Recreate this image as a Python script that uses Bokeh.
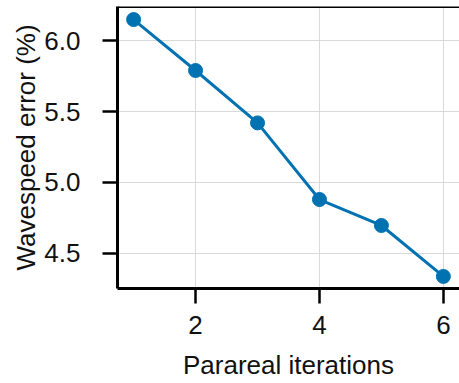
from bokeh.plotting import figure
from bokeh.models import Range1d, Span, FixedTicker, CustomJSTickFormatter
from bokeh.embed import file_html
from bokeh.resources import INLINE

iterations = [1, 2, 3, 4, 5, 6]
wavespeed_error = [6.148, 5.789, 5.42, 4.88, 4.697, 4.338]
x_ticks = [2, 4, 6]
y_ticks = [4.5, 5.0, 5.5, 6.0]

FONT = "Liberation Sans"
BLUE = "#0072B2"

p = figure(width=459, height=383, output_backend="svg", toolbar_location=None,
           x_range=Range1d(0.74, 6.26), y_range=Range1d(4.253, 6.24),
           min_border_left=117, min_border_right=0, min_border_top=6, min_border_bottom=95)
p.outline_line_color = None
p.background_fill_color = "white"

p.line(iterations, wavespeed_error, line_color=BLUE, line_width=3)
p.scatter(iterations, wavespeed_error, size=14, fill_color=BLUE, line_color=BLUE)

top = Span(location=6.24, dimension="width", line_color="black", line_width=3)
p.add_layout(top)

for ax in (p.xaxis[0], p.yaxis[0]):
    ax.axis_line_width = 3
    ax.axis_line_color = "black"
    ax.major_tick_line_width = 2.5
    ax.major_tick_line_color = "black"
    ax.major_tick_out = 15
    ax.major_tick_in = 0
    ax.minor_tick_out = 0
    ax.minor_tick_in = 0
    ax.major_label_text_font = FONT
    ax.major_label_text_font_size = "26px"
    ax.major_label_text_color = "#111111"
    ax.axis_label_text_font = FONT
    ax.axis_label_text_font_size = "26px"
    ax.axis_label_text_font_style = "normal"
    ax.axis_label_text_color = "#111111"

p.xaxis.major_label_standoff = 12
p.yaxis.major_label_standoff = 22
p.xaxis.ticker = FixedTicker(ticks=x_ticks)
p.yaxis.ticker = FixedTicker(ticks=y_ticks)
p.yaxis.formatter = CustomJSTickFormatter(code="return tick.toFixed(1);")
p.xaxis.axis_label = "Parareal iterations"
p.yaxis.axis_label = "Wavespeed error (%)"
p.xaxis.axis_label_standoff = 13
p.yaxis.axis_label_standoff = 0

p.xgrid.ticker = FixedTicker(ticks=x_ticks)
p.ygrid.ticker = FixedTicker(ticks=y_ticks)
p.grid.grid_line_color = "#d9d9d9"
p.grid.grid_line_width = 1

open("out.html", "w").write(file_html(p, INLINE))
